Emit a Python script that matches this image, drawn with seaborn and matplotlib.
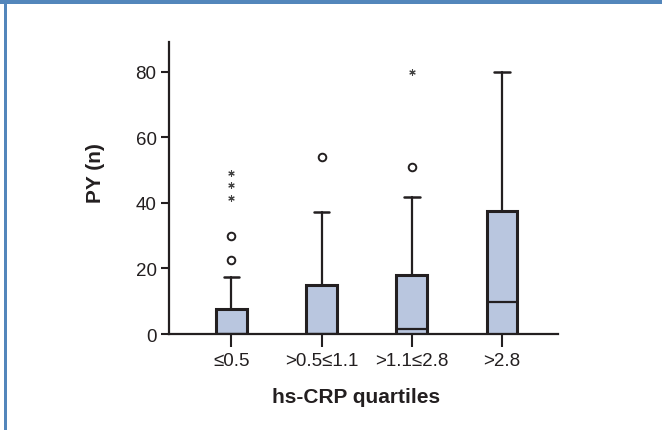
import numpy as np
import pandas as pd
import seaborn as sns
import matplotlib.pyplot as plt
from matplotlib.patches import Rectangle

# hs-CRP quartile groups and box summary values
groups = ['≤0.5', '>0.5≤1.1', '>1.1≤2.8', '>2.8']
q1 = [0, 0, 0, 0]
median = [0, 0, 1.6, 9.9]
q3 = [7.6, 15.0, 18.1, 37.5]
whisker_low = [0, 0, 0, 0]
whisker_high = [17.4, 37.2, 41.8, 80.0]

# outliers (circles) and extremes (stars)
outlier_group = [0, 0, 1, 2]
outlier_value = [22.6, 30.0, 54.0, 51.0]
extreme_group = [0, 0, 0, 2]
extreme_value = [41.6, 45.5, 49.0, 79.9]

sns.set_style('ticks')
plt.rcParams['font.family'] = ['Liberation Sans', 'DejaVu Sans']

line_col = '#231f20'
box_col = '#b9c6df'

fig = plt.figure(figsize=(6.62, 4.31), dpi=100)
ax = fig.add_axes([0.2553, 0.2227, 0.843 - 0.2553, 0.9002 - 0.2227])

stats = []
for i, g in enumerate(groups):
    stats.append({'label': g, 'q1': q1[i], 'med': median[i], 'q3': q3[i],
                  'whislo': whisker_low[i], 'whishi': whisker_high[i], 'fliers': []})

ax.bxp(stats, positions=range(len(groups)), widths=0.34, capwidths=0.17,
       showfliers=False, patch_artist=True,
       boxprops=dict(facecolor=box_col, edgecolor=line_col, linewidth=2.2),
       medianprops=dict(color=line_col, linewidth=1.6),
       whiskerprops=dict(color=line_col, linewidth=1.6),
       capprops=dict(color=line_col, linewidth=1.8))

out_df = pd.DataFrame({'x': outlier_group, 'y': outlier_value})
ext_df = pd.DataFrame({'x': extreme_group, 'y': extreme_value})
sns.scatterplot(data=out_df, x='x', y='y', ax=ax, marker='o', s=30,
                facecolor='white', edgecolor=line_col, linewidth=1.4, zorder=5)
sns.scatterplot(data=ext_df, x='x', y='y', ax=ax, marker=(6, 2, 0), s=16,
                color='#444444', linewidth=0.8, zorder=5)

ax.set_xlim(-0.69, 3.62)
ax.set_ylim(0, 89)
ax.set_yticks([0, 20, 40, 60, 80])
ax.set_xticks(range(len(groups)))
ax.set_xticklabels(groups)
sns.despine(ax=ax)
for sp in ['left', 'bottom']:
    ax.spines[sp].set_linewidth(1.6)
    ax.spines[sp].set_color(line_col)
ax.tick_params(axis='y', length=6, width=1.5, color=line_col, labelsize=13.5, pad=3, labelcolor='#231f20')
ax.tick_params(axis='x', length=9, width=1.5, color=line_col, labelsize=13.5, pad=4, labelcolor='#231f20')
ax.set_xlabel('hs-CRP quartiles', fontsize=15, fontweight='bold', color='#231f20')
ax.set_ylabel('PY (n)', fontsize=15, fontweight='bold', color='#231f20')
ax.xaxis.set_label_coords(0.482, -0.18)
ax.yaxis.set_label_coords(-0.165, 0.555)

# blue frame: thick bar on top, thin line on the left
fig.patches.append(Rectangle((0, 1 - 5 / 431), 1, 5 / 431, transform=fig.transFigure,
                             facecolor='#5386bb', edgecolor='none'))
fig.patches.append(Rectangle((4 / 662, 0), 3 / 662, 1, transform=fig.transFigure,
                             facecolor='#5386bb', edgecolor='none'))

fig.savefig('out.png', dpi=100)
